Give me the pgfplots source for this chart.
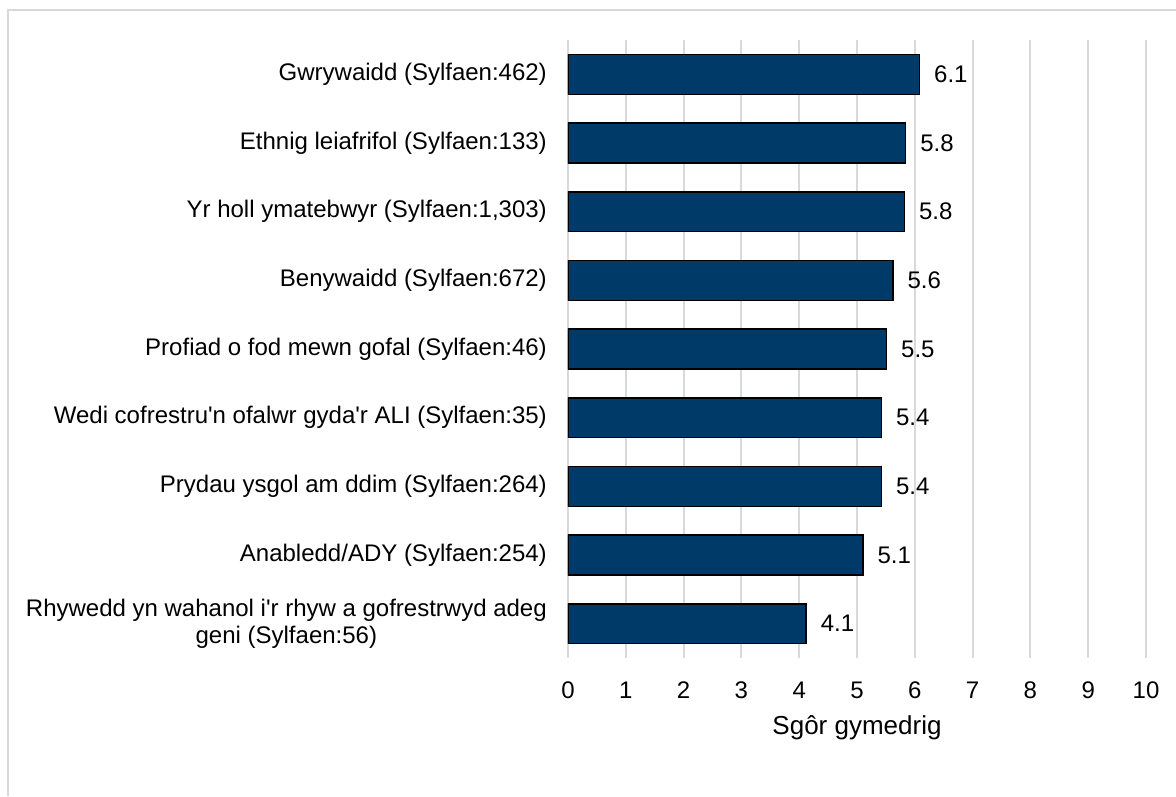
\documentclass[border=0pt]{standalone}
\usepackage{pgfplots}
\pgfplotsset{compat=1.18}
\usepackage{pgfplotstable}
\usepackage{fontspec}
\setmainfont{Liberation Sans}
\definecolor{barblue}{HTML}{003A69}
\definecolor{gridgray}{HTML}{D9D9D9}
\pgfplotstableread{
y val lab
0 6.08 6.1
1 5.84 5.8
2 5.82 5.8
3 5.62 5.6
4 5.51 5.5
5 5.42 5.4
6 5.42 5.4
7 5.10 5.1
8 4.12 4.1
}\scores
\begin{document}
\begin{tikzpicture}[x=1pt,y=1pt,font=\fontsize{24}{27}\selectfont]
\useasboundingbox (0,0) rectangle (1176,796);
\fill[white] (0,0) rectangle (1176,796);
\draw[gridgray, line width=2.5pt] (8,0) -- (8,786) -- (1176,786);
\begin{axis}[
  at={(568pt,138pt)}, anchor=south west,
  width=578pt, height=618pt, scale only axis,
  xmin=0, xmax=10, ymin=-0.5, ymax=8.5,
  y dir=reverse,
  xbar, bar width=0.58,
  axis line style={draw=none},
  xtick={0,1,...,10},
  ytick={0,1,...,8},
  yticklabels={
    {Gwrywaidd (Sylfaen:462)},
    {Ethnig leiafrifol (Sylfaen:133)},
    {Yr holl ymatebwyr (Sylfaen:1,303)},
    {Benywaidd (Sylfaen:672)},
    {Profiad o fod mewn gofal (Sylfaen:46)},
    {Wedi cofrestru\textquotesingle n ofalwr gyda\textquotesingle r ALI (Sylfaen:35)},
    {Prydau ysgol am ddim (Sylfaen:264)},
    {Anabledd/ADY (Sylfaen:254)},
    {Rhywedd yn wahanol i\textquotesingle r rhyw a gofrestrwyd adeg\\geni (Sylfaen:56)}},
  major tick length=0pt,
  xmajorgrids,
  grid style={gridgray, line width=2pt},
  yticklabel style={anchor=east, align=center, inner sep=0pt, xshift=-21pt, font=\fontsize{24}{27}\selectfont},
  xticklabel style={anchor=base, inner sep=0pt, yshift=-40.5pt, font=\fontsize{24}{27}\selectfont},
  /pgf/number format/assume math mode=true,
  xlabel={Sgôr gymedrig},
  xlabel style={at={(axis description cs:0.5,0)}, anchor=base, inner sep=0pt, yshift=-76pt, font=\fontsize{26}{29}\selectfont},
  point meta=explicit symbolic,
  nodes near coords={\pgfplotspointmeta},
  nodes near coords style={anchor=west, inner sep=0pt, xshift=14pt, font=\fontsize{24}{27}\selectfont, text=black},
]
\addplot[fill=barblue, draw=black, line width=1.5pt] table[x=val, y=y, meta=lab] {\scores};
\end{axis}
\end{tikzpicture}
\end{document}
